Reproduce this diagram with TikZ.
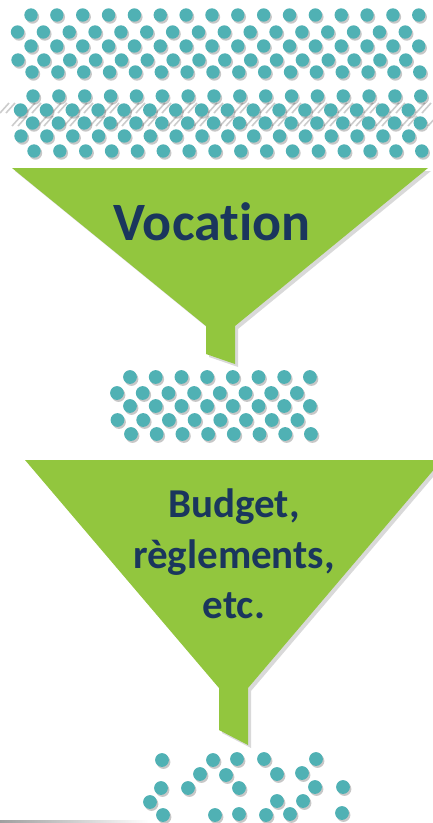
\documentclass[tikz,border=0pt]{standalone}
\usepackage{fontspec}
\setmainfont{Carlito}[Ligatures=NoCommon]
\usetikzlibrary{shadows}
\definecolor{funnelgreen}{RGB}{146,198,62}
\definecolor{dotteal}{RGB}{80,177,180}
\definecolor{textnavy}{RGB}{26,54,93}

\begin{document}
\begin{tikzpicture}[x=1pt,y=-1pt,
  dot/.style={fill=dotteal,drop shadow={shadow xshift=1.5pt,shadow yshift=-2pt,opacity=.22,fill=black}},
  funnel/.style={fill=funnelgreen,drop shadow={shadow xshift=3pt,shadow yshift=-3pt,opacity=.15,fill=black}},
  hatch/.style={gray!40,line width=1.6pt},
  bigtext/.style={text=textnavy,font=\bfseries\fontsize{54}{54}\selectfont},
  midtext/.style={text=textnavy,font=\bfseries\fontsize{41}{41}\selectfont}]
  \useasboundingbox (0,0) rectangle (433,823);
  \clip (0,0) rectangle (433,823);

  % faint hatched band behind the second block
  \foreach \x in {0,26,...,416} {
    \draw[hatch] (\x,113) -- ++(9,-10);
    \draw[hatch] (\x+6,113) -- ++(9,-10);
    \draw[hatch] (\x+12,126) -- ++(9,-10);
    \draw[hatch] (\x+18,126) -- ++(9,-10);
  }

  % first block of dots
  \foreach \y/\xo in {15/31,32/17.5,46/31,60/18,72/32} {
    \foreach \i in {0,...,15}
      \fill[dot] (\xo+25.85*\i,\y) circle[radius=6.7pt];
  }
  % second block of dots
  \foreach \y/\xo in {96/33,110/20.5,123/32.5,136/21,151/34} {
    \foreach \i in {0,...,15}
      \fill[dot] (\xo+25.85*\i,\y) circle[radius=6.7pt];
  }

  % first funnel
  \path[funnel] (12,168) -- (428,168) -- (235,326) -- (235,364)
    -- (206,354) -- (206,326) -- cycle;
  \node[bigtext,anchor=base] (vocation) at (212,240) {Vocation};

  % dots after the first funnel
  \foreach \y/\xo in {377/130,393/117,406/130,420/117.5,434/131} {
    \foreach \i in {0,...,7}
      \fill[dot] (\xo+25.7*\i,\y) circle[radius=6.9pt];
  }

  % second funnel
  \path[funnel] (25,460) -- (442,460) -- (248,688) -- (248,745)
    -- (219,730) -- (219,688) -- cycle;
  \node[midtext,anchor=base] (budget) at (234,517) {Budget,};
  \node[midtext,anchor=base] (reglements) at (234,568) {règlements,};
  \node[midtext,anchor=base] (etc) at (234,618) {etc.};

  % dots after the second funnel
  \foreach \x/\y in {162/760,213/760,237/759,264/759,316/759,
    200/774,226/775,277/774,302/773,
    161/788,188/788,239/788,315/787,343/787,
    150/802,277/801,303/801,
    163/815,215/815,239/814,266/815,290/814,342/813}
    \fill[dot] (\x,\y) circle[radius=6.9pt];

  \shade[left color=gray!75,right color=white] (0,820) rectangle (150,823);
\end{tikzpicture}
\end{document}
